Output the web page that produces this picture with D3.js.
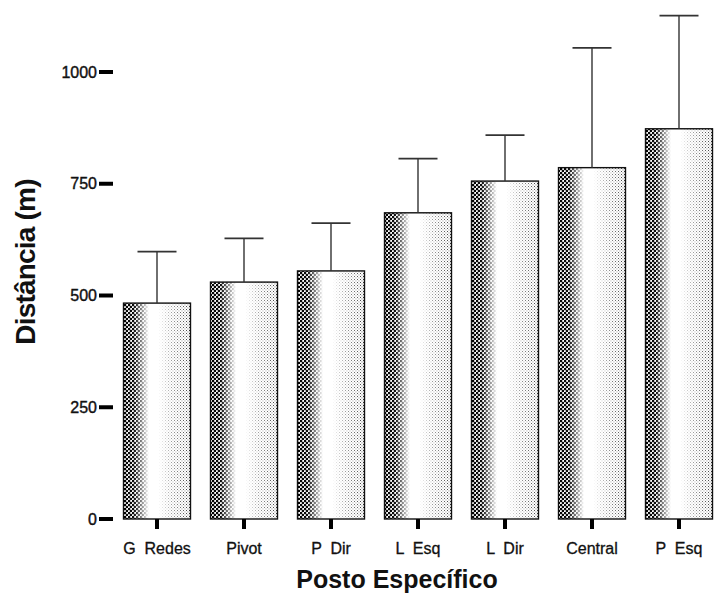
<!DOCTYPE html>
<html>
<head>
<meta charset="utf-8">
<script src="https://cdn.jsdelivr.net/npm/d3@7"></script>
<style>
  html, body { margin: 0; padding: 0; background: #fff; }
  svg { display: block; font-family: "Liberation Sans", Arial, sans-serif; }
</style>
</head>
<body>
<svg id="chart"></svg>
<script>
// Chart data
const categories = ["G  Redes", "Pivot", "P  Dir", "L  Esq", "L  Dir", "Central", "P  Esq"];
const means = [483, 530, 555, 685, 756, 786, 873];
const sds = [115, 98, 107, 121, 103, 268, 253];
const yTicks = [0, 250, 500, 750, 1000];

const width = 717;
const height = 596;

const svg = d3.select("#chart")
  .attr("width", width)
  .attr("height", height);

// Scales
const x = d3.scaleBand()
  .domain(categories)
  .range([113.5, 722.5])
  .paddingInner(0.23)
  .paddingOuter(0.115);

const y = d3.scaleLinear()
  .domain([0, 1000])
  .range([519, 72]);

// Halftone look: dot patterns masked by horizontal gradients
const defs = svg.append("defs");

const dots = defs.append("pattern")
  .attr("id", "dots")
  .attr("patternUnits", "userSpaceOnUse")
  .attr("width", 4).attr("height", 4);
dots.append("circle").attr("cx", 1).attr("cy", 1).attr("r", 1.35).attr("fill", "#000");
dots.append("circle").attr("cx", 3).attr("cy", 3).attr("r", 1.35).attr("fill", "#000");

const fine = defs.append("pattern")
  .attr("id", "fine")
  .attr("patternUnits", "userSpaceOnUse")
  .attr("width", 3).attr("height", 3);
fine.append("rect").attr("x", 0).attr("y", 0).attr("width", 1).attr("height", 1).attr("fill", "#222");
fine.append("rect").attr("x", 1.5).attr("y", 1.5).attr("width", 0.9).attr("height", 0.9).attr("fill", "#444");

function gradient(id, stops) {
  const g = defs.append("linearGradient")
    .attr("id", id)
    .attr("x1", 0).attr("x2", 1).attr("y1", 0).attr("y2", 0);
  stops.forEach(([o, v]) => g.append("stop")
    .attr("offset", o)
    .attr("stop-color", "#fff")
    .attr("stop-opacity", v));
}
gradient("gLeft", [[0, 1], [0.15, 0.95], [0.26, 0.5], [0.38, 0], [1, 0]]);
gradient("gRight", [[0, 0], [0.52, 0], [0.72, 0.45], [0.94, 0.8], [1, 0.95]]);

function mask(id, grad) {
  defs.append("mask")
    .attr("id", id)
    .attr("maskContentUnits", "objectBoundingBox")
    .append("rect")
    .attr("width", 1).attr("height", 1)
    .attr("fill", `url(#${grad})`);
}
mask("mLeft", "gLeft");
mask("mRight", "gRight");

// Bars
const bars = svg.append("g")
  .selectAll("g")
  .data(categories.map((c, i) => ({ c, m: means[i], sd: sds[i] })))
  .enter().append("g");

bars.append("rect")
  .attr("x", d => x(d.c))
  .attr("y", d => y(d.m))
  .attr("width", x.bandwidth())
  .attr("height", d => y(0) - y(d.m))
  .attr("fill", "url(#dots)")
  .attr("mask", "url(#mLeft)");

bars.append("rect")
  .attr("x", d => x(d.c))
  .attr("y", d => y(d.m))
  .attr("width", x.bandwidth())
  .attr("height", d => y(0) - y(d.m))
  .attr("fill", "url(#fine)")
  .attr("mask", "url(#mRight)");

bars.append("rect")
  .attr("x", d => x(d.c))
  .attr("y", d => y(d.m))
  .attr("width", x.bandwidth())
  .attr("height", d => y(0) - y(d.m))
  .attr("fill", "none")
  .attr("stroke", "#111")
  .attr("stroke-width", 1.4);

// Error bars (upper only)
const capHalf = 19.5;
bars.append("line")
  .attr("x1", d => x(d.c) + x.bandwidth() / 2)
  .attr("x2", d => x(d.c) + x.bandwidth() / 2)
  .attr("y1", d => y(d.m))
  .attr("y2", d => y(d.m + d.sd))
  .attr("stroke", "#333")
  .attr("stroke-width", 1.4);

bars.append("line")
  .attr("x1", d => x(d.c) + x.bandwidth() / 2 - capHalf)
  .attr("x2", d => x(d.c) + x.bandwidth() / 2 + capHalf)
  .attr("y1", d => y(d.m + d.sd))
  .attr("y2", d => y(d.m + d.sd))
  .attr("stroke", "#333")
  .attr("stroke-width", 1.7);

// Y axis: thick short ticks and labels, no domain line
const yAxis = svg.append("g");
yAxis.selectAll("line")
  .data(yTicks)
  .enter().append("line")
  .attr("x1", 99).attr("x2", 113)
  .attr("y1", d => y(d)).attr("y2", d => y(d))
  .attr("stroke", "#000")
  .attr("stroke-width", 4);
yAxis.selectAll("text")
  .data(yTicks)
  .enter().append("text")
  .attr("x", 97)
  .attr("y", d => y(d) + 5.5)
  .attr("text-anchor", "end")
  .attr("font-size", "16px")
  .attr("fill", "#111")
  .attr("stroke", "#111")
  .attr("stroke-width", 0.4)
  .text(d => d);

// X axis: thick stubs below each bar and labels
const xAxis = svg.append("g");
xAxis.selectAll("line")
  .data(categories)
  .enter().append("line")
  .attr("x1", d => x(d) + x.bandwidth() / 2)
  .attr("x2", d => x(d) + x.bandwidth() / 2)
  .attr("y1", 519).attr("y2", 529)
  .attr("stroke", "#000")
  .attr("stroke-width", 4);
xAxis.selectAll("text")
  .data(categories)
  .enter().append("text")
  .attr("x", d => x(d) + x.bandwidth() / 2)
  .attr("y", 554)
  .attr("text-anchor", "middle")
  .attr("font-size", "16px")
  .attr("fill", "#111")
  .attr("stroke", "#111")
  .attr("stroke-width", 0.3)
  .style("white-space", "pre")
  .text(d => d);

// Axis titles
svg.append("text")
  .attr("x", 397)
  .attr("y", 588)
  .attr("text-anchor", "middle")
  .attr("font-size", "25px")
  .attr("font-weight", "bold")
  .attr("fill", "#111")
  .text("Posto Específico");

svg.append("text")
  .attr("transform", "translate(35,262) rotate(-90)")
  .attr("text-anchor", "middle")
  .attr("font-size", "28px")
  .attr("font-weight", "bold")
  .attr("letter-spacing", "-0.8px")
  .attr("fill", "#111")
  .text("Distância (m)");
</script>
</body>
</html>
